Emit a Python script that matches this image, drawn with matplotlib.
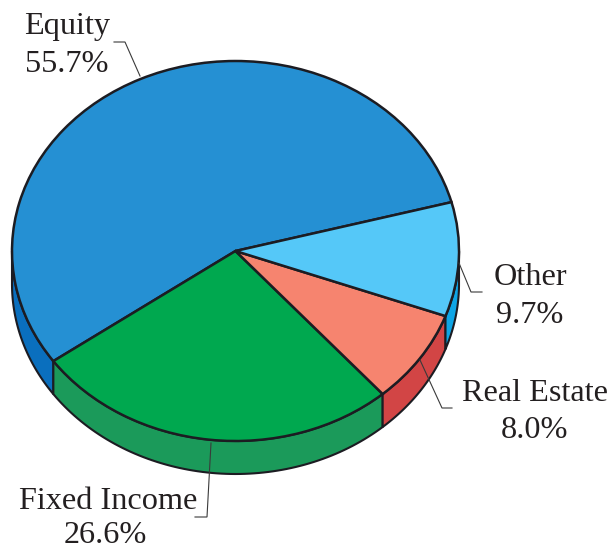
import numpy as np
import matplotlib
matplotlib.use("Agg")
import matplotlib.pyplot as plt

categories = ["Equity", "Fixed Income", "Real Estate", "Other"]
values = [55.7, 26.6, 8.0, 9.7]
value_labels = ["55.7%", "26.6%", "8.0%", "9.7%"]
top_colors = ["#2590D3", "#00A84F", "#F6846F", "#55C8F8"]
wall_colors = ["#0A6FBE", "#1B9A5A", "#D24545", "#0FA5E5"]

W, H = 613, 550
CX, CY, RX, RY, DEPTH = 235.5, 251, 223.5, 190, 33
START = 14.9
EDGE = "#1c1c22"
TEXT = "#231f20"

plt.rcParams["font.family"] = ["Liberation Serif", "DejaVu Serif"]
fig = plt.figure(figsize=(W / 100, H / 100), dpi=100)
ax = fig.add_axes([0, 0, 1, 1])

# walls
d = DEPTH / RY
bounds = START + np.cumsum([0] + values) * 3.6
for i in range(len(values)):
    for k in (0, 1):
        lo = max(bounds[i], 180 + 360 * k)
        hi = min(bounds[i + 1], 360 + 360 * k)
        if hi <= lo:
            continue
        t = np.radians(np.linspace(lo, hi, 80))
        xs = np.concatenate([np.cos(t), np.cos(t[::-1])])
        ys = np.concatenate([np.sin(t), np.sin(t[::-1]) - d])
        ax.fill(xs, ys, facecolor=wall_colors[i], edgecolor=EDGE, lw=1.5,
                joinstyle="round", zorder=1)

# top face
wedges, _ = ax.pie(values, colors=top_colors, startangle=START, counterclock=True,
                   radius=1, wedgeprops=dict(edgecolor=EDGE, linewidth=1.8))
for w in wedges:
    w.set_zorder(2)

ax.set_aspect("auto")
ax.set_xlim(-CX / RX, (W - CX) / RX)
ax.set_ylim((CY - H) / RY, CY / RY)
ax.axis("off")

# labels
overlay = fig.add_axes([0, 0, 1, 1], facecolor="none")
overlay.set_xlim(0, W)
overlay.set_ylim(H, 0)
overlay.axis("off")

label_pos = {
    "Equity": ((67, 34), (67, 72)),
    "Fixed Income": ((108, 509), (105, 543)),
    "Real Estate": ((535.5, 401), (535, 438)),
    "Other": ((530, 285), (530, 323)),
}
leaders = {
    "Equity": ([114, 125, 140], [42, 42, 76]),
    "Fixed Income": ([195, 207, 211], [517, 517, 443]),
    "Real Estate": ([420, 442, 452], [360, 408, 408]),
    "Other": ([459, 471, 482], [263, 292, 292]),
}
for name, val in zip(categories, value_labels):
    (x1, y1), (x2, y2) = label_pos[name]
    overlay.text(x1, y1, name, ha="center", va="baseline", fontsize=23.2, color=TEXT)
    overlay.text(x2, y2, val, ha="center", va="baseline", fontsize=23.2, color=TEXT)
    lx, ly = leaders[name]
    overlay.plot(lx, ly, color="#3a3a3a", lw=0.8, solid_joinstyle="miter")

fig.savefig("out.png", dpi=100, facecolor="white")
